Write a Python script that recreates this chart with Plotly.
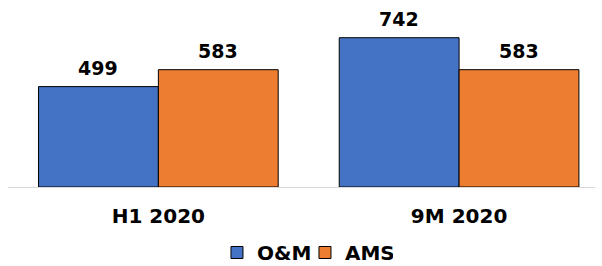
import plotly.graph_objects as go

categories = ["H1 2020", "9M 2020"]
om_values = [499, 742]
ams_values = [583, 583]
series_names = ["O&M", "AMS"]
series_colors = ["#4472C4", "#ED7D31"]

FONT = "DejaVu Sans, Verdana, sans-serif"

fig = go.Figure()
series = [om_values, ams_values]
for name, vals, color in zip(series_names, series, series_colors):
    fig.add_trace(go.Bar(
        x=categories, y=vals, name=name,
        marker=dict(color=color, line=dict(color="#000000", width=1)),
        cliponaxis=False,
    ))

# value labels above bars (offset half a bar to each side of the category)
offsets = [-60, 60]
for vals, dx in zip(series, offsets):
    for cat, v in zip(categories, vals):
        fig.add_annotation(x=cat, y=v, text=str(v), showarrow=False,
                           xshift=dx, yshift=6, yanchor="bottom",
                           font=dict(family=FONT, size=19, color="#000000", weight="bold"))

fig.update_layout(
    width=602, height=266,
    margin=dict(l=8, r=7, t=10, b=79, autoexpand=False),
    paper_bgcolor="white", plot_bgcolor="white",
    barmode="group", bargap=0.203, bargroupgap=0,
    showlegend=True,
    legend=dict(orientation="h", x=0.356, xanchor="left", y=-0.37, yanchor="middle",
                font=dict(family=FONT, size=20, color="#000000", weight="bold"),
                itemwidth=30, tracegroupgap=0, entrywidth=43),
    xaxis=dict(range=[-0.5, 1.452], showline=True, linecolor="#d9d9d9", linewidth=1,
               ticks="", showgrid=False, automargin=False, ticklabelstandoff=11,
               tickfont=dict(family=FONT, size=20, color="#000000", weight="bold")),
    yaxis=dict(range=[0, 879.7], visible=False, showgrid=False, zeroline=False, automargin=False),
)

fig.write_html("out.html", config={"displayModeBar": False},
               post_script="document.body.style.margin='0';document.body.style.overflow='hidden';")
